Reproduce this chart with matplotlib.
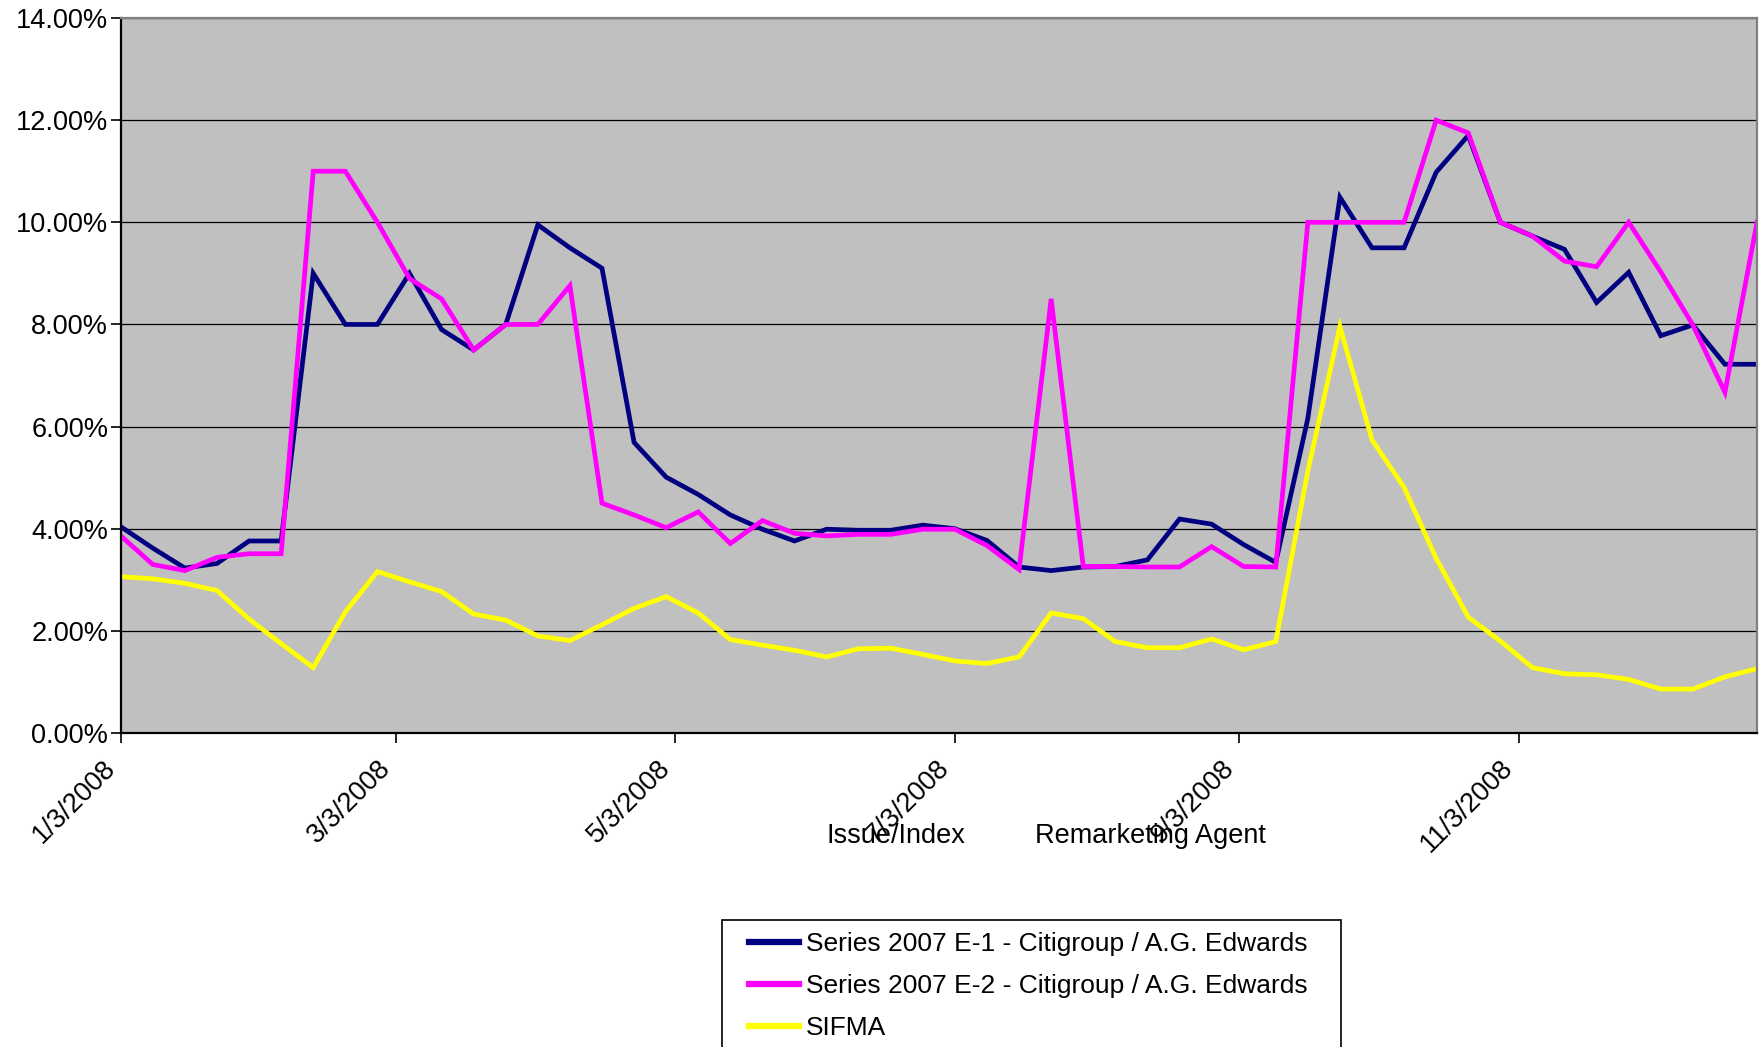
import numpy as np
import pandas as pd
import matplotlib
matplotlib.use("Agg")
import matplotlib.pyplot as plt
from matplotlib.patches import Rectangle
from matplotlib.ticker import PercentFormatter

plt.rcParams["font.family"] = ["Liberation Sans", "DejaVu Sans"]

#Weekly reset dates, 2008
dates = pd.date_range("2008-01-03", periods=52, freq="7D")

#Rates in percent
e1 = [4.04, 3.62, 3.23, 3.32, 3.76, 3.76, 9.00, 8.00, 8.00, 9.00,
      7.90, 7.50, 8.00, 9.95, 9.50, 9.10, 5.69, 5.01, 4.67, 4.27,
      3.99, 3.76, 3.99, 3.97, 3.97, 4.07, 4.00, 3.77, 3.25, 3.18,
      3.25, 3.26, 3.39, 4.19, 4.09, 3.69, 3.34, 6.16, 10.49, 9.50,
      9.50, 10.98, 11.70, 10.00, 9.73, 9.47, 8.43, 9.02, 7.78, 7.99,
      7.22, 7.22]
e2 = [3.86, 3.30, 3.18, 3.44, 3.51, 3.51, 11.00, 11.00, 10.00, 8.90,
      8.50, 7.50, 8.00, 8.00, 8.76, 4.50, 4.27, 4.02, 4.33, 3.71,
      4.16, 3.91, 3.86, 3.89, 3.89, 3.99, 3.99, 3.67, 3.20, 8.50,
      3.26, 3.26, 3.25, 3.25, 3.65, 3.26, 3.25, 10.00, 10.00, 10.00,
      10.00, 12.00, 11.75, 10.00, 9.73, 9.24, 9.13, 10.00, 9.03, 7.99,
      6.67, 10.00]
sifma = [3.06, 3.02, 2.93, 2.79, 2.23, 1.75, 1.28, 2.37, 3.16, 2.96,
         2.77, 2.33, 2.21, 1.90, 1.81, 2.12, 2.44, 2.67, 2.35, 1.83,
         1.72, 1.62, 1.49, 1.65, 1.66, 1.54, 1.41, 1.36, 1.49, 2.35,
         2.24, 1.79, 1.67, 1.67, 1.84, 1.63, 1.79, 5.13, 7.96, 5.74,
         4.81, 3.42, 2.27, 1.80, 1.28, 1.16, 1.14, 1.05, 0.86, 0.86,
         1.10, 1.26]

labels = ["Series 2007 E-1 - Citigroup / A.G. Edwards",
          "Series 2007 E-2 - Citigroup / A.G. Edwards",
          "SIFMA"]
colors = ["#000080", "#FF00FF", "#FFFF00"]

tick_dates = pd.to_datetime(["2008-01-03", "2008-03-03", "2008-05-03",
                             "2008-07-03", "2008-09-03", "2008-11-03"])
tick_labels = ["1/3/2008", "3/3/2008", "5/3/2008", "7/3/2008", "9/3/2008", "11/3/2008"]

FS = 19.5
W, H = 1760, 1047

fig = plt.figure(figsize=(17.6, 10.47), dpi=100)
ax = fig.add_axes([0.0686, 0.2999, 0.9297, 0.6829])
ax.set_facecolor("#C0C0C0")

for ys, c, lab in zip([e1, e2, sifma], colors, labels):
    ax.plot(dates, ys, color=c, lw=3.4, label=lab, solid_joinstyle="miter")

ax.set_ylim(0, 14)
ax.set_yticks(np.arange(0, 15, 2))
ax.yaxis.set_major_formatter(PercentFormatter(xmax=100, decimals=2))
ax.grid(axis="y", color="black", lw=0.9)
ax.set_axisbelow(True)
ax.set_xlim(dates[0], dates[-1])
ax.set_xticks(tick_dates)
ax.set_xticklabels(tick_labels, rotation=45, ha="right", va="bottom",
                   rotation_mode="anchor")
ax.tick_params(axis="both", labelsize=FS, color="black", length=7, width=1.2)
ax.tick_params(axis="x", pad=22)
ax.tick_params(axis="y", pad=2)

for s in ["left", "bottom"]:
    ax.spines[s].set_color("black")
    ax.spines[s].set_linewidth(1.6)
for s in ["top", "right"]:
    ax.spines[s].set_color("#808080")
    ax.spines[s].set_linewidth(1.6)

#Axis titles, overlapping the date labels as in the source
fig.text(896 / W, 1 - 836 / H, "Issue/Index", fontsize=FS, ha="center", va="center")
fig.text(1150 / W, 1 - 836 / H, "Remarketing Agent", fontsize=FS, ha="center", va="center")

#Legend box runs past the bottom edge, as in the source
fig.add_artist(Rectangle((722 / W, -0.05), (1341 - 722) / W, (1 - 920 / H) + 0.05,
                         transform=fig.transFigure, facecolor="white",
                         edgecolor="black", lw=1.2, zorder=1))
leg = fig.legend(loc="upper left", bbox_to_anchor=(749 / W, 1 - 932 / H),
                 borderaxespad=0, borderpad=0, fontsize=19, frameon=False,
                 handlelength=1.9, handletextpad=0.27, labelspacing=0.68)
leg.set_zorder(2)
for h in leg.get_lines():
    h.set_linewidth(4.5)

fig.savefig("out.png", dpi=100)
